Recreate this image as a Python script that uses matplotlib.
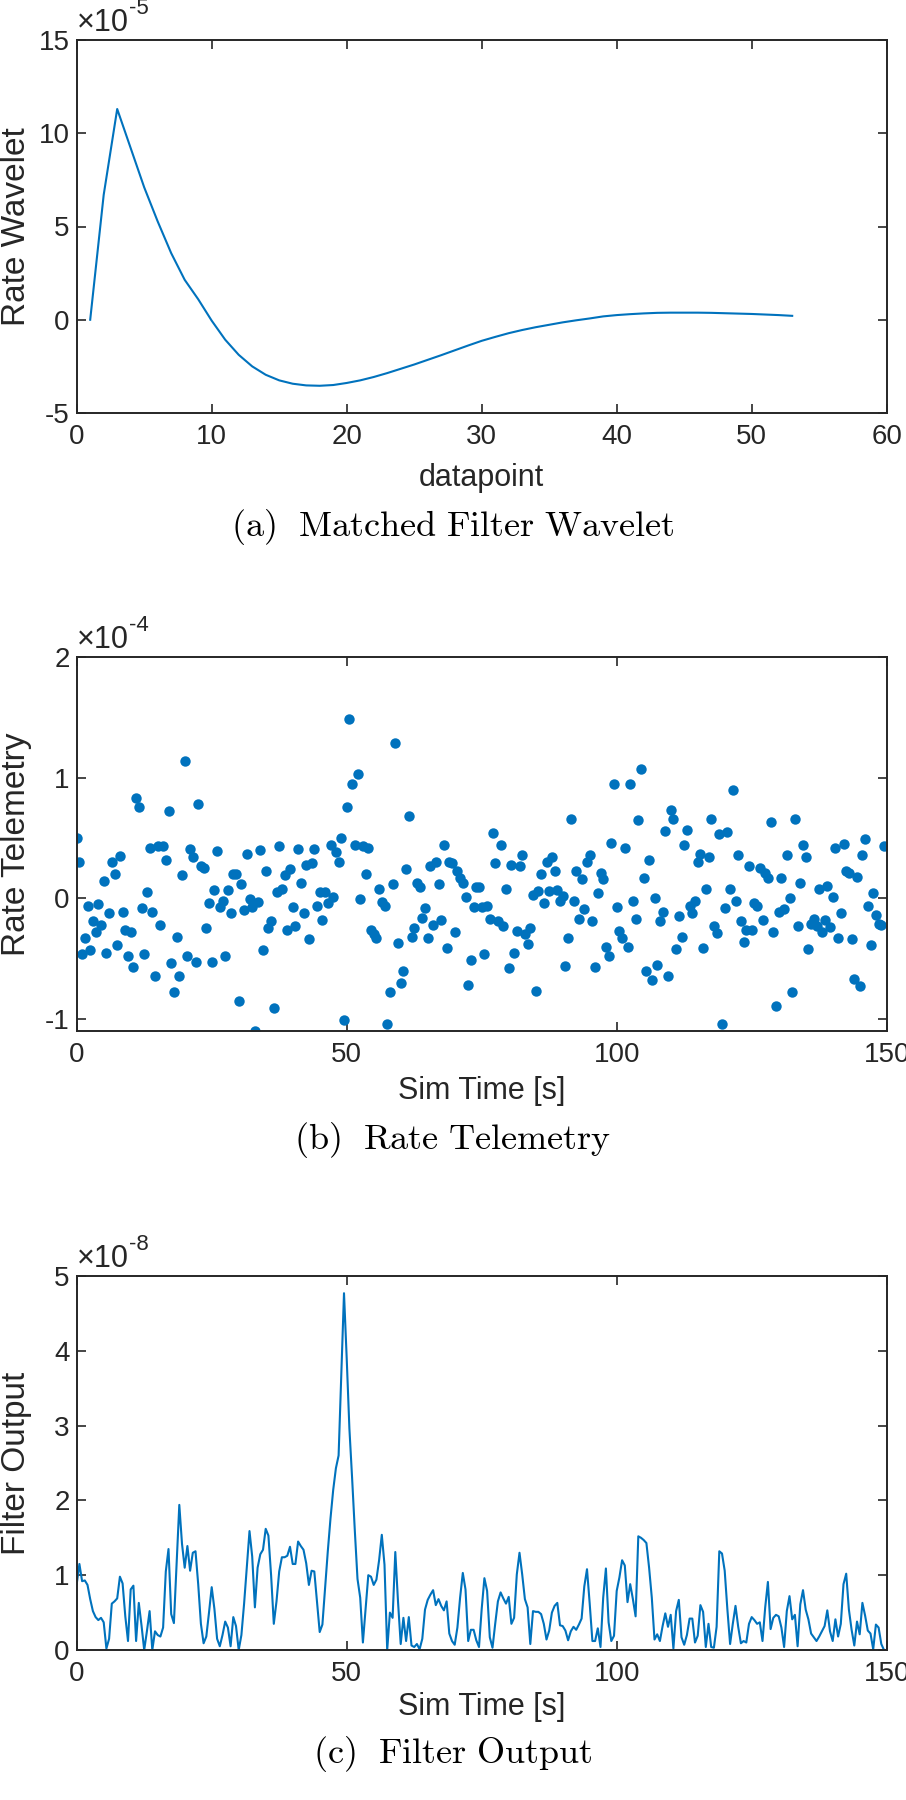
import numpy as np
import matplotlib
matplotlib.use("Agg")
import matplotlib.pyplot as plt

# (a) matched filter wavelet, units of 1e-5, one value per datapoint 1..53
wavelet = [0, 6.7, 11.3, 9.2, 7.1, 5.27, 3.57, 2.14, 1.1, -0.05,
           -1.07, -1.88, -2.5, -2.95, -3.25, -3.43, -3.52, -3.54, -3.5, -3.39,
           -3.25, -3.07, -2.86, -2.63, -2.4, -2.15, -1.9, -1.64, -1.38, -1.13,
           -0.92, -0.72, -0.55, -0.4, -0.27, -0.14, -0.03, 0.07, 0.18, 0.25,
           0.3, 0.34, 0.37, 0.38, 0.38, 0.38, 0.37, 0.35, 0.33, 0.31,
           0.28, 0.25, 0.21]

# (b) rate telemetry, units of 1e-4, sampled every 0.5 s (one row = 5 s)
rate = [0.50, 0.30, -0.46, -0.33, -0.06, -0.43, -0.19, -0.28, -0.05, -0.22,
        0.14, -0.45, -0.12, 0.30, 0.20, -0.39, 0.35, -0.11, -0.26, -0.48,
        -0.28, -0.57, 0.83, 0.76, -0.08, -0.46, 0.05, 0.42, -0.11, -0.64,
        0.43, -0.22, 0.43, 0.32, 0.72, -0.54, -0.78, -0.32, -0.64, 0.19,
        1.14, -0.48, 0.41, 0.34, -0.53, 0.78, 0.27, 0.25, -0.25, -0.04,
        -0.53, 0.07, 0.39, -0.07, -0.02, -0.48, 0.07, -0.12, 0.20, 0.20,
        -0.85, 0.12, -0.10, 0.37, -0.01, -0.07, -1.10, -0.03, 0.40, -0.43,
        0.23, -0.25, -0.19, -0.91, 0.05, 0.43, 0.08, 0.19, -0.26, 0.24,
        -0.07, -0.23, 0.41, 0.13, -0.12, 0.28, -0.34, 0.29, 0.41, -0.06,
        0.05, -0.18, 0.05, -0.04, 0.44, 0.01, 0.38, 0.30, 0.50, -1.01,
        0.76, 1.49, 0.95, 0.44, 1.03, -0.01, 0.43, 0.20, 0.42, -0.26,
        -0.30, -0.33, 0.08, -0.03, -0.06, -1.04, -0.78, 0.12, 1.29, -0.37,
        -0.70, -0.60, 0.24, 0.68, -0.32, -0.25, 0.13, 0.09, -0.16, -0.08,
        -0.33, 0.27, -0.22, 0.30, 0.12, -0.18, 0.44, -0.41, 0.30, 0.29,
        -0.28, 0.23, 0.17, 0.13, 0.01, -0.72, -0.51, -0.07, 0.09, 0.09,
        -0.07, -0.46, -0.06, -0.17, 0.54, 0.29, -0.19, 0.44, -0.23, 0.08,
        -0.58, 0.28, -0.45, -0.27, 0.27, 0.36, -0.30, -0.38, -0.25, 0.03,
        -0.77, 0.06, 0.20, -0.04, 0.30, 0.06, 0.34, 0.23, 0.07, -0.02,
        0.02, -0.56, -0.33, 0.66, -0.02, 0.23, -0.17, 0.16, -0.09, 0.30,
        0.36, -0.19, -0.57, 0.04, 0.21, 0.16, -0.40, -0.48, 0.46, 0.95,
        -0.07, -0.27, -0.33, 0.42, -0.40, 0.95, -0.02, -0.17, 0.65, 1.07,
        0.17, -0.60, 0.32, -0.68, 0.00, -0.55, -0.19, -0.11, 0.56, -0.64,
        0.73, 0.66, -0.42, -0.15, -0.32, 0.44, 0.57, -0.06, -0.12, -0.02,
        0.30, 0.37, -0.41, 0.08, 0.34, 0.66, -0.23, -0.29, 0.53, -1.04,
        -0.08, 0.55, 0.08, 0.90, -0.02, 0.36, -0.19, -0.36, -0.26, 0.27,
        -0.26, -0.04, -0.06, 0.25, -0.18, 0.21, 0.17, 0.63, -0.28, -0.89,
        -0.11, 0.17, -0.09, 0.36, 0.00, -0.78, 0.66, -0.23, 0.13, 0.44,
        0.34, -0.42, -0.21, -0.17, -0.23, 0.08, -0.28, -0.18, 0.10, -0.24,
        0.01, 0.42, -0.33, -0.12, 0.45, 0.23, 0.21, -0.34, -0.67, 0.18,
        -0.73, 0.36, 0.49, -0.06, -0.39, 0.04, -0.14, -0.21, -0.22, 0.43]

# (c) filter output, units of 1e-8, same 0.5 s sampling
filt_out = [0.88, 1.15, 0.92, 0.93, 0.87, 0.68, 0.52, 0.44, 0.40, 0.43,
            0.37, 0.02, 0.15, 0.62, 0.65, 0.69, 0.98, 0.89, 0.45, 0.12,
            0.81, 0.86, 0.12, 0.63, 0.33, 0.00, 0.25, 0.52, 0.00, 0.25,
            0.20, 0.18, 0.30, 1.05, 1.35, 0.48, 0.36, 1.15, 1.94, 1.42,
            1.10, 1.39, 1.06, 1.30, 1.32, 0.88, 0.35, 0.09, 0.18, 0.50,
            0.84, 0.55, 0.15, 0.05, 0.20, 0.38, 0.30, 0.05, 0.44, 0.32,
            0.00, 0.20, 0.62, 1.10, 1.59, 1.25, 0.57, 1.10, 1.28, 1.34,
            1.62, 1.53, 1.00, 0.35, 0.65, 1.05, 1.24, 1.24, 1.26, 1.38,
            1.15, 1.15, 1.45, 1.39, 1.34, 1.16, 0.87, 1.06, 1.05, 0.65,
            0.24, 0.34, 0.83, 1.32, 1.76, 2.14, 2.43, 2.60, 3.70, 4.77,
            3.90, 2.96, 2.30, 1.60, 0.95, 0.70, 0.10, 0.55, 1.00, 0.98,
            0.87, 0.94, 1.20, 1.54, 1.14, 0.00, 0.50, 0.43, 1.31, 0.65,
            0.08, 0.43, 0.12, 0.44, 0.06, 0.04, 0.08, 0.01, 0.15, 0.54,
            0.67, 0.74, 0.80, 0.60, 0.68, 0.59, 0.53, 0.65, 0.22, 0.12,
            0.07, 0.30, 0.70, 1.03, 0.81, 0.12, 0.27, 0.27, 0.13, 0.04,
            0.55, 0.96, 0.79, 0.17, 0.03, 0.35, 0.65, 0.77, 0.69, 0.62,
            0.71, 0.35, 0.43, 1.01, 1.30, 1.01, 0.68, 0.57, 0.08, 0.52,
            0.51, 0.51, 0.48, 0.35, 0.14, 0.26, 0.50, 0.59, 0.63, 0.33,
            0.32, 0.26, 0.13, 0.25, 0.31, 0.27, 0.34, 0.42, 0.85, 1.08,
            0.62, 0.12, 0.12, 0.29, 0.04, 0.70, 1.09, 0.37, 0.12, 0.19,
            0.79, 0.97, 1.20, 1.13, 0.64, 0.88, 0.68, 0.45, 1.52, 1.50,
            1.47, 1.43, 1.10, 0.70, 0.14, 0.21, 0.12, 0.32, 0.49, 0.31,
            0.47, 0.02, 0.52, 0.67, 0.17, 0.07, 0.20, 0.42, 0.42, 0.10,
            0.19, 0.60, 0.51, 0.04, 0.35, 0.04, 0.03, 0.31, 1.32, 1.29,
            1.06, 0.54, 0.08, 0.35, 0.59, 0.31, 0.09, 0.12, 0.10, 0.35,
            0.44, 0.40, 0.35, 0.37, 0.12, 0.57, 0.91, 0.28, 0.43, 0.47,
            0.45, 0.30, 0.04, 0.52, 0.72, 0.41, 0.47, 0.05, 0.61, 0.80,
            0.54, 0.41, 0.22, 0.17, 0.12, 0.18, 0.25, 0.32, 0.53, 0.25,
            0.12, 0.41, 0.18, 0.35, 0.88, 1.02, 0.54, 0.27, 0.06, 0.38,
            0.21, 0.63, 0.46, 0.26, 0.22, 0.01, 0.34, 0.30, 0.08, 0.00]

datapoint = np.arange(1, len(wavelet) + 1)
sim_time = 0.5 * np.arange(len(rate))

BLUE = "#0072BD"
AX_COL = "#262626"
TICK_FS, XLAB_FS, YLAB_FS = 20, 22, 24

plt.rcParams["font.family"] = ["Liberation Sans", "DejaVu Sans"]
plt.rcParams["axes.unicode_minus"] = False

W, H = 906, 1800
fig = plt.figure(figsize=(W / 100, H / 100), dpi=100)


def make_axes(top, bottom):
    # pixel rows -> figure fractions
    left, right = 76.7, 886.7
    return fig.add_axes([left / W, 1 - bottom / H, (right - left) / W, (bottom - top) / H])


def style(ax, xlabel, ylabel, expo, xlab_off=60):
    for s in ax.spines.values():
        s.set_color(AX_COL)
        s.set_linewidth(1.4)
    ax.tick_params(direction="in", top=True, right=True, length=6.5, width=1.2,
                   color=AX_COL, labelcolor=AX_COL, labelsize=TICK_FS)
    ax.tick_params(axis="x", pad=8)
    ax.tick_params(axis="y", pad=5)
    ax.set_xlabel(xlabel, fontsize=XLAB_FS, color=AX_COL, va="center")
    ax.set_ylabel(ylabel, fontsize=YLAB_FS, color=AX_COL, va="center")
    h = ax.get_position().height * H
    ax.xaxis.set_label_coords(0.5, -xlab_off / h)
    ax.yaxis.set_label_coords(-60 / 810, 0.5)
    # MATLAB style "x10^-n" exponent above the y axis, plain hyphen
    base = ax.text(0.0, 1.006, "\u00d710", transform=ax.transAxes,
                   fontsize=22, color=AX_COL, ha="left", va="bottom")
    ax.annotate(str(expo), xy=(1.0, 0.62), xycoords=base, fontsize=16,
                color=AX_COL, ha="left", va="bottom")


def caption(y, txt):
    fig.text(0.5, 1 - y / H, txt, ha="center", va="center", fontsize=26,
             math_fontfamily="cm")


# (a)
ax1 = make_axes(40, 413)
ax1.plot(datapoint, wavelet, color=BLUE, lw=1.5)
ax1.set_xlim(0, 60)
ax1.set_ylim(-5, 15)
ax1.set_xticks(np.arange(0, 61, 10))
ax1.set_yticks(np.arange(-5, 16, 5))
style(ax1, "datapoint", "Rate Wavelet", -5, xlab_off=65)
caption(527, r"$\mathrm{(a)\ \ Matched\ Filter\ Wavelet}$")

# (b)
ax2 = make_axes(657, 1031)
ax2.plot(sim_time, rate, "o", color=BLUE, ms=7.5, mec="none")
ax2.set_xlim(0, 150)
ax2.set_ylim(-1.1, 2)
ax2.set_xticks([0, 50, 100, 150])
ax2.set_yticks([-1, 0, 1, 2])
style(ax2, "Sim Time [s]", "Rate Telemetry", -4)
caption(1140, r"$\mathrm{(b)\ \ Rate\ Telemetry}$")

# (c)
ax3 = make_axes(1276, 1650)
ax3.plot(sim_time, filt_out, color=BLUE, lw=1.5)
ax3.set_xlim(0, 150)
ax3.set_ylim(0, 5)
ax3.set_xticks([0, 50, 100, 150])
ax3.set_yticks(np.arange(0, 6, 1))
style(ax3, "Sim Time [s]", "Filter Output", -8, xlab_off=57)
caption(1754, r"$\mathrm{(c)\ \ Filter\ Output}$")

fig.savefig("out.png", dpi=100)
